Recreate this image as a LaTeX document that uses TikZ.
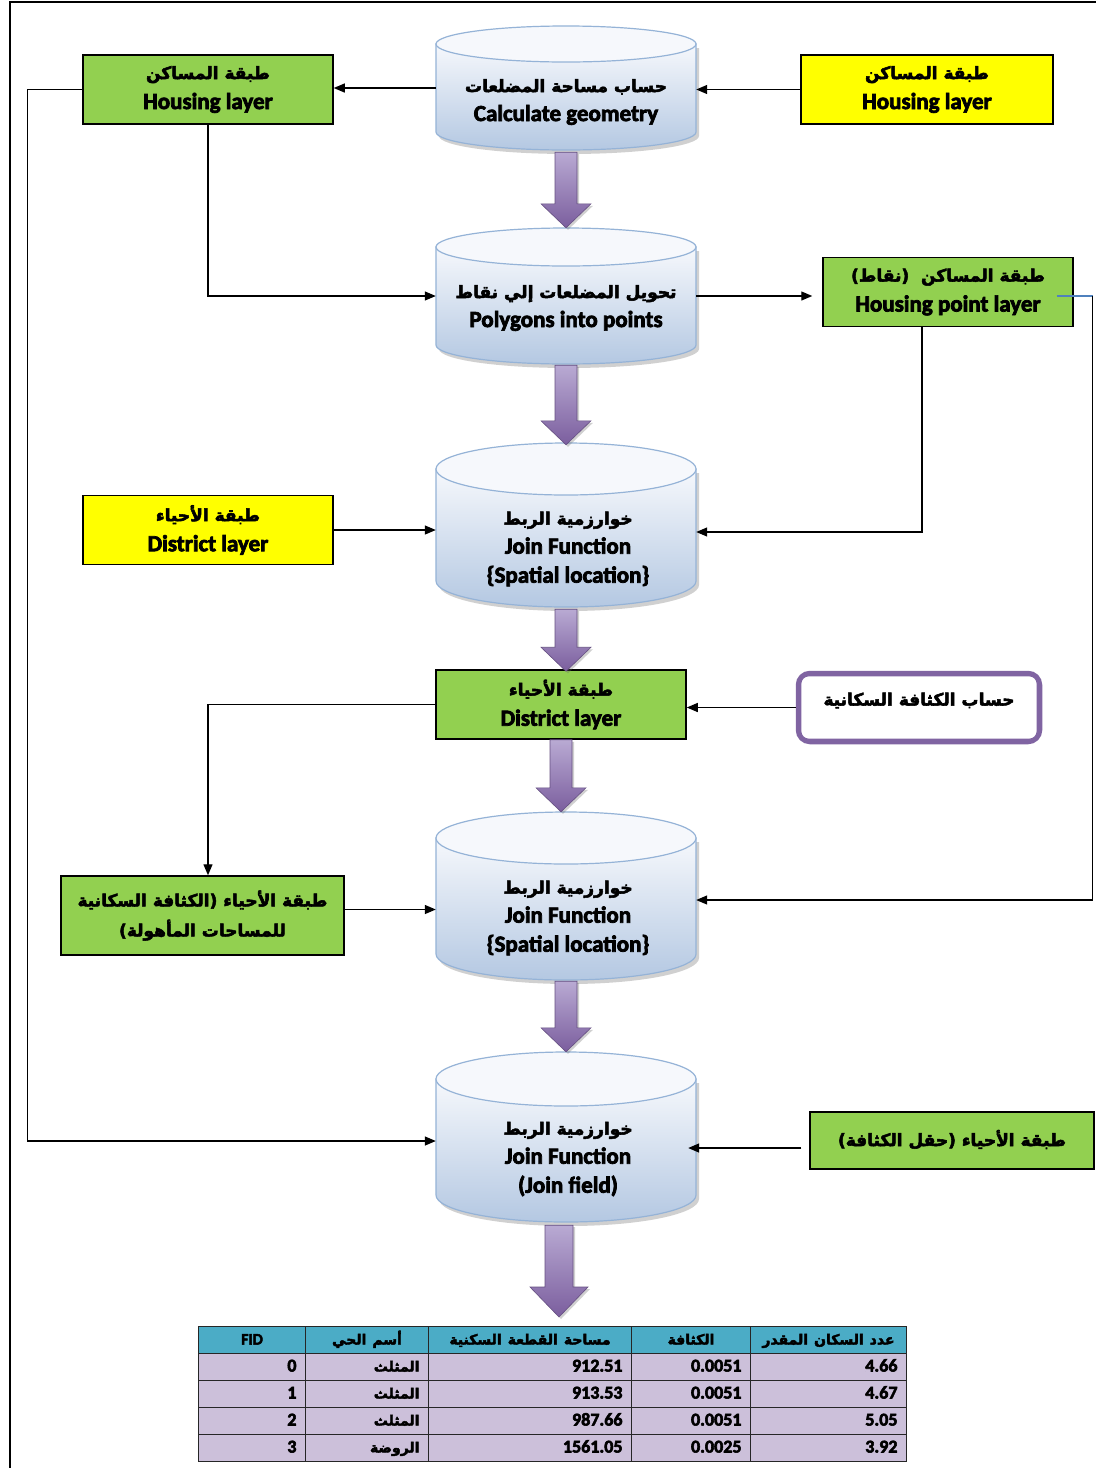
\documentclass[tikz,border=0pt]{standalone}
\usepackage{fontspec}
\setmainfont{Carlito}[BoldFeatures={FakeBold=3.2}]
\newfontfamily\arfont{DejaVu Sans}[Script=Arabic, BoldFeatures={FakeBold=3}]
\TeXXeTstate=1
\usetikzlibrary{calc,arrows.meta,shadows,matrix}
\definecolor{grn}{HTML}{92D050}
\definecolor{ylw}{HTML}{FFFF00}
\definecolor{purp}{HTML}{8064A2}
\definecolor{cylline}{HTML}{95B3D7}
\definecolor{cyltop}{HTML}{F6F8FC}
\definecolor{cylbot}{HTML}{B4C8E2}
\definecolor{hdr}{HTML}{4BACC6}
\definecolor{lav}{HTML}{CCC0DA}
\definecolor{fatlight}{HTML}{B9AAD3}
\definecolor{fatdark}{HTML}{7B5E9E}
\definecolor{lnblue}{HTML}{4F81BD}
\newcommand\AR[2][17]{{\arfont\bfseries\fontsize{#1}{#1}\selectfont\beginR #2\endR}}
\tikzset{
  box/.style={draw=black, line width=1.5pt, minimum width=250pt, minimum height=69pt,
    align=center, inner sep=0pt, font=\bfseries\fontsize{23}{30}\selectfont},
  greenbox/.style={box, fill=grn},
  yellowbox/.style={box, fill=ylw},
  conn/.style={draw=black, line width=1.3pt, -{Triangle[length=11pt,width=9pt]}},
  cylbody/.style={top color=cyltop, bottom color=cylbot, draw=cylline, line width=1.2pt,
    drop shadow={shadow xshift=3pt, shadow yshift=-4pt, opacity=0.3, fill=black!60}},
  cyltopst/.style={fill=cyltop, draw=cylline, line width=1.2pt},
  cyltext/.style={align=center, inner sep=0pt, font=\bfseries\fontsize{23}{29}\selectfont},
  fatarrow/.style={top color=fatlight, bottom color=fatdark, draw=purp!80!black, line width=0.6pt,
    drop shadow={shadow xshift=2pt, shadow yshift=-2pt, opacity=0.3, fill=black!60}},
  cell/.style={draw=black!85, line width=1pt, fill=lav, align=right, inner xsep=9pt, inner ysep=0pt,
    text height=13pt, text depth=4pt, minimum height=27pt, font=\bfseries\fontsize{18}{18}\selectfont}
}
% name, cx, top, bottom, ry
\newcommand\cyl[5]{%
  \node[inner sep=0pt, minimum width=260pt, minimum height={(#4-#3)*1pt}] (#1) at (#2,{(#3+#4)/2}) {};
  \shadedraw[cylbody] (#2-130,#3+#5) -- (#2-130,#4-#5)
     arc[start angle=180, end angle=360, x radius=130pt, y radius=#5pt] -- (#2+130,#3+#5) -- cycle;
  \filldraw[cyltopst] (#2,#3+#5) ellipse[x radius=130pt, y radius=#5pt];
}
% start, tip, shaft half, head half, head length
\newcommand\fat[5]{%
  \shadedraw[fatarrow] let \p1=#1, \p2=#2 in
   ({\x1-#3pt},\y1) -- ({\x1-#3pt},{\y2+#5pt}) -- ({\x1-#4pt},{\y2+#5pt}) -- (\x1,\y2)
   -- ({\x1+#4pt},{\y2+#5pt}) -- ({\x1+#3pt},{\y2+#5pt}) -- ({\x1+#3pt},\y1) -- cycle;
}
\begin{document}
\begin{tikzpicture}[x=1pt,y=-1pt]
\useasboundingbox[fill=white] (0,0) rectangle (1096,1468);
\draw[line width=1.5pt] (10,1468) -- (10,2) -- (1096,2);

% cylinders
\cyl{c1}{566}{26}{150}{18}
\cyl{c2}{566}{228}{364}{19}
\cyl{c3}{566}{443}{607}{26}
\cyl{c4}{566}{812}{980}{26}
\cyl{c5}{566}{1052}{1222}{27}

\node[cyltext] (c1t) at (566,102) {\AR{حساب مساحة المضلعات}\\Calculate geometry};
\node[cyltext] (c2t) at (566,308) {\AR{تحويل المضلعات إلي نقاط}\\Polygons into points};
\node[cyltext] (c3t) at (568,549) {\AR{خوارزمية الربط}\\Join Function\\\{Spatial location\}};
\node[cyltext] (c4t) at (568,918) {\AR{خوارزمية الربط}\\Join Function\\\{Spatial location\}};
\node[cyltext] (c5t) at (568,1159) {\AR{خوارزمية الربط}\\Join Function\\(Join field)};

% boxes
\node[greenbox] (hl) at (208,89.5) {\AR{طبقة المساكن}\\Housing layer};
\node[yellowbox, minimum width=252pt] (hy) at (927,89.5) {\AR{طبقة المساكن}\\Housing layer};
\node[greenbox] (hp) at (948,292) {\AR{طبقة المساكن~~(نقاط)}\\Housing point layer};
\node[yellowbox] (dy) at (208,530) {\AR{طبقة الأحياء}\\District layer};
\node[greenbox] (dg) at (561,704.5) {\AR{طبقة الأحياء}\\District layer};
\node[greenbox, minimum width=283pt, minimum height=79pt] (gl) at (202.5,915.5)
   {\AR{طبقة الأحياء (الكثافة السكانية}\\\AR{للمساحات المأهولة)}};
\node[greenbox, minimum width=284pt, minimum height=57pt] (gr) at (952,1140.5)
   {\raisebox{5pt}{\AR{طبقة الأحياء (حقل الكثافة)}}};

\node[minimum width=242pt, minimum height=69pt, draw=purp, line width=4.5pt,
  rounded corners=12pt, fill=white, inner sep=0pt] (pb) at (919,707.5) {};
\draw[purp, line width=1.2pt, rounded corners=8pt]
  ([shift={(5pt,5pt)}]pb.south west) rectangle ([shift={(-5pt,-5pt)}]pb.north east);
\node[cyltext] (pbt) at ([yshift=7pt]pb.center) {\AR{حساب الكثافة السكانية}};

% table
\matrix (tbl) [matrix of nodes, anchor=north west, inner sep=0pt, outer sep=0pt,
  row sep=-1pt, column sep=-1pt,
  nodes={cell},
  column 1/.style={nodes={text width=89pt}},
  column 2/.style={nodes={text width=105pt}},
  column 3/.style={nodes={text width=185pt}},
  column 4/.style={nodes={text width=101pt}},
  column 5/.style={nodes={text width=138pt}},
  row 1/.style={nodes={fill=hdr, align=center}}] at (198,1326) {
 {\fontsize{16}{18}\selectfont FID} & \AR[14]{أسم الحي} & \AR[14]{مساحة القطعة السكنية} & \AR[14]{الكثافة} & \AR[14]{عدد السكان المقدر} \\
 0 & \AR[14]{المثلث} & 912.51 & 0.0051 & 4.66 \\
 1 & \AR[14]{المثلث} & 913.53 & 0.0051 & 4.67 \\
 2 & \AR[14]{المثلث} & 987.66 & 0.0051 & 5.05 \\
 3 & \AR[14]{الروضة} & 1561.05 & 0.0025 & 3.92 \\
};

% fat arrows
\fat{([yshift=-2pt]c1.south)}{(c2.north)}{11}{25}{24}
\fat{([yshift=-1pt]c2.south)}{([yshift=-2pt]c3.north)}{11}{25}{24}
\fat{([yshift=-2pt]c3.south)}{([yshift=-2pt]dg.north)}{11}{25}{24}
\fat{(dg.south)}{(c4.north)}{11}{25}{24}
\fat{([yshift=-1pt]c4.south)}{(c5.north)}{11}{25}{24}
\fat{($(c5.south)+(-7,3)$)}{($(tbl.north)+(0,-9)$)}{14}{29}{30}

% connectors
\draw[conn] (c1.west) -- (c1.west -| hl.east);
\draw[conn] (hy.west) -- (hy.west -| c1.east);
\draw[conn] (hl.south) |- (c2.west);
\draw[conn] (hl.west) -- ++(-55,0) |- ([yshift=-4pt]c5.west);
\draw[conn, shorten >=10pt] (c2.east) -- (c2.east -| hp.west);
\draw[conn] ([xshift=-26pt]hp.south) |- ([yshift=-7pt]c3.east);
\draw[lnblue, line width=1.3pt] ([xshift=-17pt,yshift=-4pt]hp.east) -- ++(36,0) coordinate (hpR);
\draw[conn] (hpR) |- ([yshift=-4pt]c4.east);
\draw[conn] (dy.east) -- (dy.east -| c3.west);
\draw[conn] (pb.west) -- (pb.west -| dg.east);
\draw[conn] (dg.west) -| ([xshift=5.5pt]gl.north);
\draw[conn] ([yshift=6pt]gl.east) -- ([yshift=6pt]gl.east -| c4.west);
\draw[conn] ([xshift=-8pt,yshift=-7.5pt]gr.west) -- ([xshift=-8pt,yshift=-7.5pt]gr.west -| c5.east);
\end{tikzpicture}
\end{document}
